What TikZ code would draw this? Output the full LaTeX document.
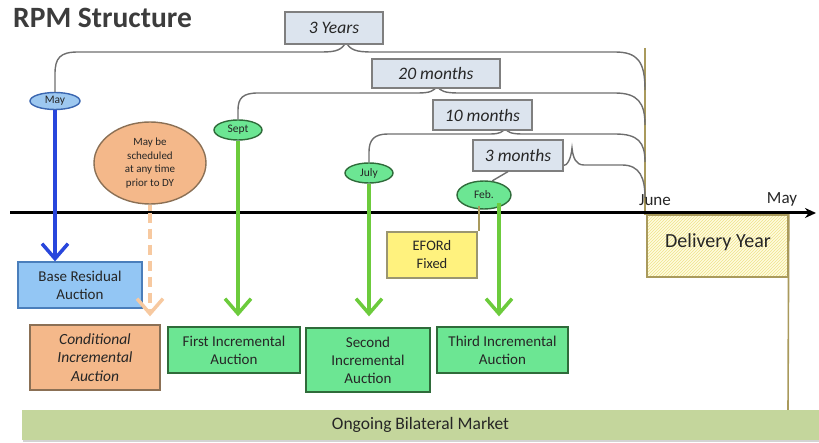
\documentclass[tikz,border=0pt]{standalone}
\usepackage{fontspec}
\setmainfont{Carlito}
\usetikzlibrary{arrows.meta,patterns,shapes.geometric,shadows}

\definecolor{spanfill}{HTML}{DCE4EE}
\definecolor{spanedge}{HTML}{7F7F7F}
\definecolor{bracegray}{HTML}{6E6E6E}
\definecolor{mayfill}{HTML}{9DC8F0}
\definecolor{mayedge}{HTML}{3A66B0}
\definecolor{bluebox}{HTML}{93C6F4}
\definecolor{blueedge}{HTML}{4A7EBB}
\definecolor{bluearrow}{HTML}{2846DC}
\definecolor{orfill}{HTML}{F4B88A}
\definecolor{oredge}{HTML}{8B7055}
\definecolor{ordash}{HTML}{F7C9A0}
\definecolor{grfill}{HTML}{6CE693}
\definecolor{gredge}{HTML}{2F6B3A}
\definecolor{grarrow}{HTML}{6CCB3C}
\definecolor{yelfill}{HTML}{FFF27E}
\definecolor{yeledge}{HTML}{9B9670}
\definecolor{olive}{HTML}{A99A5C}
\definecolor{hatch}{HTML}{EFE38A}
\definecolor{barfill}{HTML}{C4D69C}
\definecolor{txt}{HTML}{262626}

\tikzset{
  spanbox/.style={draw=spanedge, fill=spanfill, line width=1.2pt, minimum height=30pt,
    font=\fontsize{17.5}{20}\selectfont\itshape, text=txt, inner sep=0pt},
  brace/.style={draw=bracegray, line width=1.4pt},
  month/.style={ellipse, draw, line width=1.4pt, inner sep=0pt,
    font=\fontsize{11.5}{12}\selectfont, text=txt},
  auction/.style={draw=gredge, fill=grfill, line width=1.3pt, inner sep=0pt,
    align=center, font=\fontsize{15}{18}\selectfont, text=txt},
  tick/.style={line width=3.5pt, -{Straight Barb[length=15pt,width=26pt]}},
}

\begin{document}
\begin{tikzpicture}[x=1pt, y=-1pt]
  \useasboundingbox (0,0) rectangle (819,443);

  % title
  \node[anchor=west, font=\fontsize{29.5}{32}\selectfont\bfseries, text=txt!90, inner sep=0pt]
    (title) at (13,18) {RPM Structure};

  % month markers
  \node[month, fill=mayfill, draw=mayedge, minimum width=50pt, minimum height=17pt] (may) at (55,101) {May};
  \node[month, fill=orfill, draw=oredge, minimum width=112pt, minimum height=82pt, align=center,
        font=\fontsize{11}{13.5}\selectfont] (cond) at (150,163)
        {May be\\scheduled\\at any time\\prior to DY};
  \node[month, fill=grfill, draw=gredge, minimum width=48pt, minimum height=20pt] (sept) at (238,130) {Sept};
  \node[month, fill=grfill, draw=gredge, minimum width=48pt, minimum height=20pt] (july) at (369,173) {July};
  \node[month, fill=grfill, draw=gredge, minimum width=54pt, minimum height=28pt] (feb) at (484,195) {Feb.};

  % delivery year span line
  \coordinate (junetop) at (645,48);
  \coordinate (junefoot) at (645,215);
  \draw[olive, line width=2pt] (junetop) -- (junefoot);

  % braces
  \draw[brace] (may.north) -- (55,74) .. controls (55,58) and (60,52) .. (78,52) -- (322,52)
     .. controls (336,52) and (342,50) .. (346,42)
     .. controls (350,50) and (356,52) .. (372,52) -- (615,52)
     .. controls (638,52) and (645,62) .. (645,90);
  \draw[brace] (sept.north) -- (238,110) .. controls (238,98) and (243,93) .. (258,93) -- (418,93)
     .. controls (430,93) and (434,91) .. (437,86)
     .. controls (440,91) and (445,93) .. (458,93) -- (615,93)
     .. controls (638,93) and (645,103) .. (645,125);
  \draw[brace] (july.north) -- (369,152) .. controls (369,140) and (374,134) .. (388,134) -- (490,134)
     .. controls (500,134) and (503,132) .. (505,128)
     .. controls (507,132) and (511,134) .. (522,134) -- (615,134)
     .. controls (638,134) and (645,142) .. (645,162);
  \draw[brace] (540,166) -- (562,166) .. controls (568,166) and (571,158) .. (572,148)
     .. controls (573,158) and (576,165) .. (584,165) -- (622,165)
     .. controls (640,165) and (645,178) .. (645,198);

  % span labels
  \node[spanbox, minimum width=98pt, minimum height=32pt] (y3) at (334,28) {3 Years};
  \node[spanbox, minimum width=128pt, minimum height=29pt] (m20) at (436,73.5) {20 months};
  \node[spanbox, minimum width=99pt] (m10) at (482.5,115) {10 months};
  \node[spanbox, minimum width=90pt, minimum height=31pt] (m3) at (518,155.5) {3 months};
  \draw[brace] ([xshift=-10pt]m3.south) -- (feb.60);

  % timeline
  \coordinate (tstart) at (10,213);
  \coordinate (tend) at (816,213);
  \draw[line width=3pt, -{Stealth[length=11pt,width=10pt]}] (tstart) -- (tend);
  \node[font=\fontsize{17}{19}\selectfont, text=txt] (june) at (655,200) {June};
  \node[font=\fontsize{17}{19}\selectfont, text=txt] (mayend) at (782,199) {May};

  % delivery year
  \node[draw=olive, line width=1.6pt, minimum width=141pt, minimum height=62pt, inner sep=0pt,
        preaction={fill=yelfill!25}, pattern=north east lines, pattern color=hatch] (dy) at (717.5,246) {};
  \node[font=\fontsize{20}{22}\selectfont, text=txt] (dylabel) at (718,242) {Delivery Year};
  \coordinate (dyfoot) at (788,410);
  \draw[olive, line width=1.6pt] (dy.north east) -- (dyfoot);

  % auctions
  \node[auction, draw=blueedge, fill=bluebox, minimum width=124pt, minimum height=46pt] (bra) at (80,285)
    {Base Residual\\Auction};
  \node[auction, draw=oredge, fill=orfill, minimum width=130pt, minimum height=65pt,
        font=\fontsize{15.5}{18.5}\selectfont\itshape] (cia) at (95,357.5)
    {Conditional\\Incremental\\Auction};
  \node[auction, minimum width=132pt, minimum height=46pt] (first) at (234,350)
    {First Incremental\\Auction};
  \node[auction, minimum width=124pt, minimum height=64pt] (second) at (368,360)
    {Second\\Incremental\\Auction};
  \node[auction, minimum width=131pt, minimum height=46pt] (third) at (502.5,350)
    {Third Incremental\\Auction};
  \node[auction, draw=yeledge, fill=yelfill, minimum width=90pt, minimum height=46pt,
        font=\fontsize{14.5}{18}\selectfont] (eford) at (432,255)
    {EFORd\\Fixed};

  % arrows from markers to auctions
  \draw[tick, bluearrow] (may.south) -- (may.south |- bra.north);
  \draw[tick, grarrow, shorten >=10pt] (sept.south) -- (sept.south |- first.north);
  \draw[tick, grarrow, shorten >=11pt] (july.south) -- (july.south |- second.north);
  \coordinate (febfoot) at (499,203);
  \draw[tick, grarrow, shorten >=10pt] (febfoot) -- (febfoot |- third.north);
  \draw[ordash, line width=3.5pt] (cond.south) -- ++(0,6);
  \draw[ordash, line width=3.5pt, dash pattern=on 10pt off 6pt,
        -{Straight Barb[length=15pt,width=26pt]}, shorten >=8pt]
        ([yshift=-8pt]cond.south) -- (cond.south |- cia.north);
  \coordinate (efortop) at (479,206);
  \draw[olive, line width=2pt] (efortop) -- (efortop |- eford.north);

  % bilateral market bar
  \node[fill=barfill, minimum width=797pt, minimum height=30pt, inner sep=0pt,
        drop shadow={shadow xshift=1pt, shadow yshift=-2pt, opacity=.35},
        font=\fontsize{17.5}{19}\selectfont, text=txt] (bilat) at (420.5,425) {Ongoing Bilateral Market};
\end{tikzpicture}
\end{document}
